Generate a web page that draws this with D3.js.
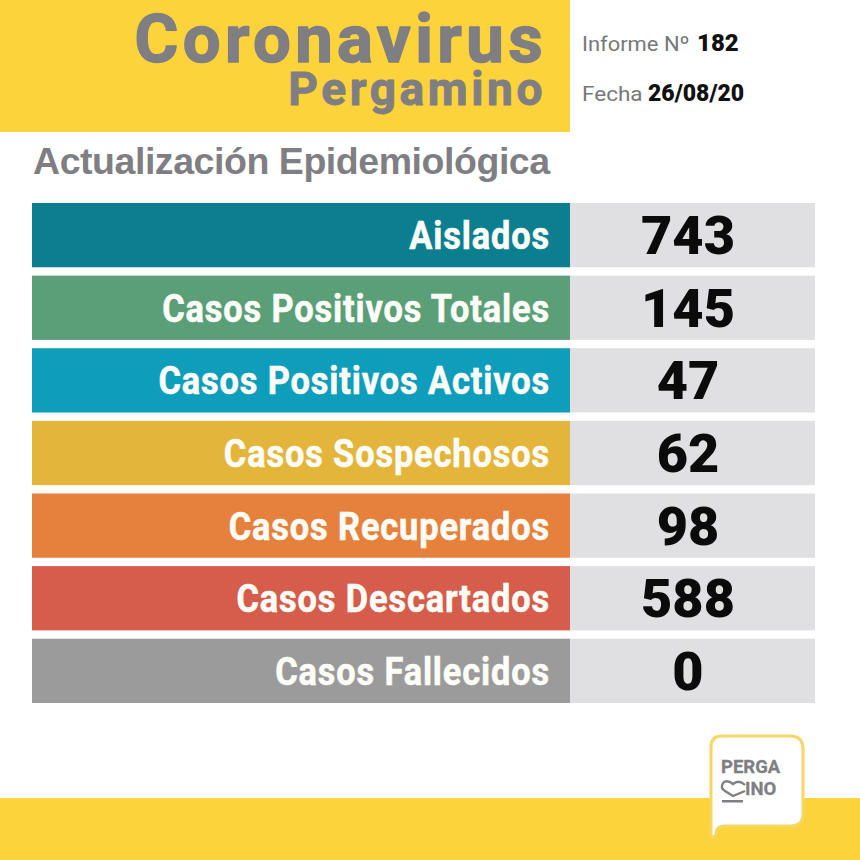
<!DOCTYPE html>
<html><head><meta charset="utf-8">
<style>html,body{margin:0;padding:0;background:#fff}svg{display:block}text{font-family:Roboto,sans-serif}</style>
<script src="https://cdn.jsdelivr.net/npm/d3@7/dist/d3.min.js"></script></head>
<body><svg id="c" width="860" height="860"></svg>
<script>
const categories=["Aislados","Casos Positivos Totales","Casos Positivos Activos","Casos Sospechosos","Casos Recuperados","Casos Descartados","Casos Fallecidos"];
const values=[743,145,47,62,98,588,0];
const rowColors=["#0b7f8f","#5a9f78","#0e9dbb","#e3b53a","#e5813c","#d65c4b","#9b9b9b"];
const yellow="#fdd33c", ink="#7f7f83", panel="#e0e0e2";
const svg=d3.select("#c");
const y=d3.scaleBand().domain(categories).range([203,703]).paddingInner(0.115);
const add=(o)=>{const t=svg.append("text").attr("transform",`translate(${o.x},${o.y}) scale(${o.sx||1},1)`)
  .attr("text-anchor",o.a||"start").attr("font-size",o.fs).attr("font-weight",o.w||400).attr("fill",o.c)
  .style("letter-spacing",(o.ls||0)+"px").text(o.t);
  if(o.sw)t.attr("stroke",o.c).attr("stroke-width",o.sw).attr("stroke-linejoin","round");return t;};
// header
svg.append("rect").attr("x",0).attr("y",0).attr("width",570).attr("height",132).attr("fill",yellow);
svg.append("rect").attr("x",0).attr("y",798).attr("width",860).attr("height",62).attr("fill",yellow);
add({x:547,y:62,a:"end",fs:67,w:700,c:ink,t:"Coronavirus",ls:4.4,sx:1,sw:1.5});
add({x:546,y:105,a:"end",fs:46,w:700,c:ink,t:"Pergamino",ls:3.6,sx:1,sw:1});
add({x:33,y:174,fs:37.5,w:700,c:ink,t:"Actualización Epidemiológica",sx:1,ls:-.45}).style("font-family","'Liberation Sans'");
add({x:582,y:51,fs:20.5,c:"#77777b",t:"Informe Nº",sx:1.07});
add({x:697,y:51,fs:24,w:900,c:"#111",t:"182",sx:1});
add({x:582,y:101,fs:20.5,c:"#77777b",t:"Fecha",sx:1.1});
add({x:648,y:101,fs:23,w:900,c:"#111",t:"26/08/20",sx:1});
// rows
const rows=svg.append("g").selectAll("g").data(categories).join("g");
rows.append("rect").attr("x",32).attr("width",538).attr("y",d=>y(d)).attr("height",y.bandwidth()).attr("fill",(d,i)=>rowColors[i]);
rows.append("rect").attr("x",570).attr("width",245).attr("y",d=>y(d)).attr("height",y.bandwidth()).attr("fill",panel);
rows.append("text").attr("transform",d=>`translate(550,${y(d)+y.bandwidth()/2+14}) scale(.87,1)`).attr("text-anchor","end")
  .attr("font-size",39.5).attr("font-weight",700).attr("fill","#fdfdf8").attr("stroke","#fdfdf8").attr("stroke-width",.6).style("letter-spacing","1px").text(d=>d);
rows.append("text").attr("x",688).attr("y",d=>y(d)+y.bandwidth()/2+19).attr("text-anchor","middle")
  .attr("font-size",54).attr("font-weight",900).attr("fill","#0b0b0b").text((d,i)=>values[i]);
// logo
svg.append("path").attr("d","M722 736H790Q803 736 803 749V814Q803 826 790 826H724Q716 826 716 834Q714 838 711 836V747Q711 736 722 736Z").attr("fill","#fff").attr("stroke","#f6d667").attr("stroke-width",3);
add({x:721,y:773,fs:18.5,w:700,c:ink,t:"PERGA",sx:1,sw:.3});
add({x:745,y:795,fs:18.5,w:700,c:ink,t:"INO",sx:1,sw:.3});
svg.append("path").attr("d","M745 785Q739 779 733 784Q727 779 723 783Q720 788 725 791L733 796L745 791").attr("fill","none").attr("stroke",ink).attr("stroke-width",2.4);
svg.append("rect").attr("x",722).attr("y",800).attr("width",21).attr("height",2.5).attr("fill",ink);
</script></body></html>
